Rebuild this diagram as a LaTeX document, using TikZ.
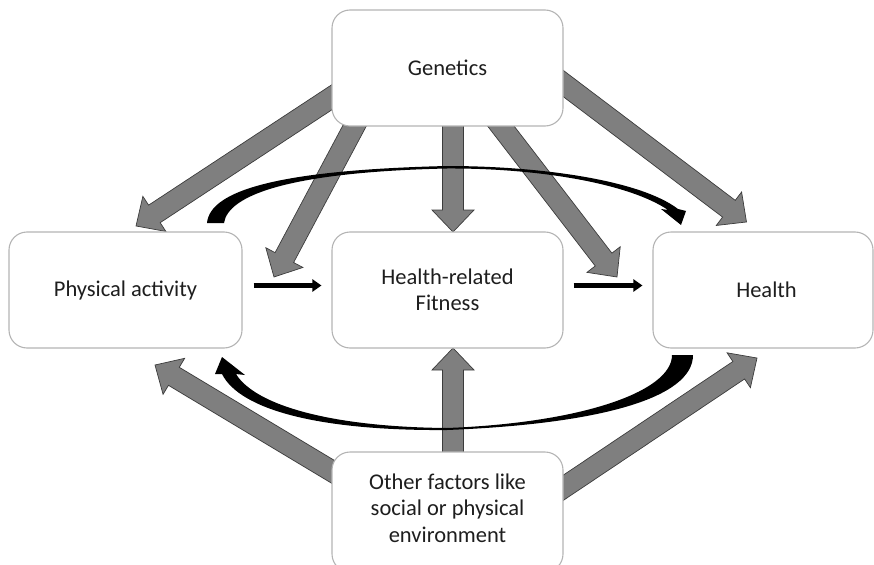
\documentclass[tikz,border=0pt]{standalone}
\usepackage{fontspec}
\setmainfont{Carlito}
\usetikzlibrary{calc,arrows.meta}
\definecolor{boxline}{HTML}{B4B4B4}
\definecolor{arrfill}{HTML}{7F7F7F}
\definecolor{arrline}{HTML}{3C3C3C}
\definecolor{txt}{HTML}{1E1E1E}
\pgfdeclarelayer{background}
\pgfsetlayers{background,main}
\tikzset{
  box/.style={draw=boxline, line width=1.1pt, fill=white, rounded corners=18pt,
    minimum width=231pt, minimum height=116pt, inner sep=0pt, align=center,
    font=\fontsize{22.5}{26.5}\selectfont, text=txt},
  garrow/.style={fill=arrfill, draw=arrline, line width=0.7pt, line join=miter},
  karrow/.style={line width=5.5pt, -{Triangle[length=9pt,width=12pt]}},
}
\newcommand\blockarrow[2]{%
  \path[garrow] let \p1=(#1), \p2=(#2),
    \n1={atan2(\y2-\y1,\x2-\x1)}, \n2={veclen(\x2-\x1,\y2-\y1)} in
    [shift={(\p1)}, rotate=\n1]
    (0pt,-10.5pt) -- (\n2-22pt,-10.5pt) -- (\n2-22pt,-21pt) -- (\n2,0pt)
    -- (\n2-22pt,21pt) -- (\n2-22pt,10.5pt) -- (0pt,10.5pt) -- cycle;}
\begin{document}
\begin{tikzpicture}[x=1pt,y=-1pt]
\useasboundingbox (0,0) rectangle (874,564);
\clip (0,0) rectangle (874,564);

% boxes
\node[box] (gen) at (447.5,68) {Genetics};
\node[box, minimum width=233pt] (pa) at (125.5,290) {Physical activity};
\node[box] (fit) at (447.5,290) {Health-related\\Fitness};
\node[box, minimum width=220pt] (hea) at (763,290) {};
\node[font=\fontsize{22.5}{26.5}\selectfont, text=txt] (heat) at (766.5,290) {Health};
\node[box, minimum height=120pt] (oth) at (447.5,512) {};
\node[align=center, font=\fontsize{22.5}{26.5}\selectfont, text=txt] (otht) at (447.5,508)
  {Other factors like\\social or physical\\environment};

% arrow end points
\coordinate (g1s) at (349,86);   \coordinate (g1t) at (136,226);
\coordinate (g2s) at (363,110);  \coordinate (g2t) at (274,277);
\coordinate (g3s) at (453,110);  \coordinate (g3t) at (453,232);
\coordinate (g4s) at (490,112);  \coordinate (g4t) at (617,277);
\coordinate (g5s) at (548,72);   \coordinate (g5t) at (746.5,222);
\coordinate (o1s) at (350,482);  \coordinate (o1t) at (155,365);
\coordinate (o2s) at (453,470);  \coordinate (o2t) at (453,348);
\coordinate (o3s) at (545,500);  \coordinate (o3t) at (757,358);

\begin{pgfonlayer}{background}
\blockarrow{g1s}{g1t}
\blockarrow{g2s}{g2t}
\blockarrow{g3s}{g3t}
\blockarrow{g4s}{g4t}
\blockarrow{g5s}{g5t}
\blockarrow{o1s}{o1t}
\blockarrow{o2s}{o2t}
\blockarrow{o3s}{o3t}

% curved arrow on top: physical activity -> health
\fill[black] (207,223) .. controls (210,190) and (280,170) .. (447,166)
  .. controls (540,166) and (640,180) .. (678,209) -- (686,211) -- (681,225)
  -- (661,209) -- (668,210) .. controls (630,184) and (540,168) .. (447,168.5)
  .. controls (290,172) and (228,195) .. (224,223) -- cycle;
% curved arrow at bottom: health -> physical activity
\fill[black] (693,355) .. controls (693,398) and (600,424) .. (447,430)
  .. controls (320,431) and (240,410) .. (222,374) -- (215,374) -- (222,357)
  -- (245,375) -- (236,374) .. controls (255,405) and (330,427) .. (447,428)
  .. controls (580,423) and (672,392) .. (672,355) -- cycle;
\end{pgfonlayer}

% small black arrows
\draw[karrow] ($(pa.east)+(11,-4.5)$) -- ($(fit.west)+(-10,-4.5)$);
\draw[karrow] ($(fit.east)+(10,-4.5)$) -- ($(hea.west)+(-10,-4.5)$);
\end{tikzpicture}
\end{document}
